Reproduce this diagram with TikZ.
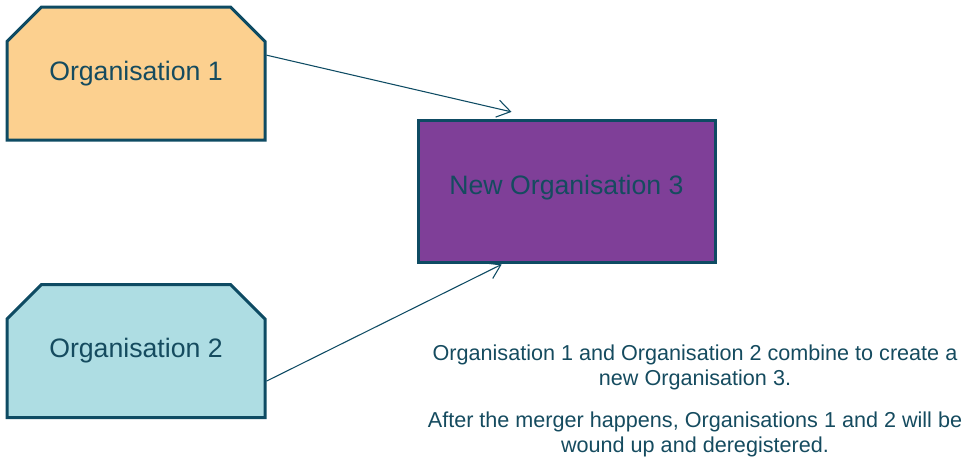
\documentclass[tikz,border=0pt]{standalone}
\usepackage{fontspec}
\setmainfont{Liberation Sans}
\usetikzlibrary{shapes.misc,arrows.meta}
\definecolor{orgline}{HTML}{0E4B63}
\definecolor{orgtext}{HTML}{154B5F}
\definecolor{orgone}{HTML}{FCD08F}
\definecolor{orgtwo}{HTML}{AEDDE3}
\definecolor{orgnew}{HTML}{7F3F98}
\tikzset{
    orgbox/.style={draw=orgline,line width=2.25pt,inner sep=0pt,text=orgtext,font=\fontsize{20}{24}\selectfont},
    oldorg/.style={orgbox,chamfered rectangle,chamfered rectangle corners={north west,north east},chamfered rectangle xsep=16.5pt,chamfered rectangle ysep=16.5pt,minimum width=193.5pt,minimum height=99.75pt},
    neworg/.style={orgbox,rectangle,fill=orgnew,minimum width=222.75pt,minimum height=106.5pt},
    merge/.style={-{Straight Barb[length=10pt,width=13pt]},draw=orgline,line width=0.8pt}
}
\begin{document}
\begin{tikzpicture}[x=0.75pt,y=-0.75pt]
    \useasboundingbox (0,0) rectangle (963,458);
    \node[oldorg,fill=orgone] (org1) at (136,73.5) {\raisebox{2pt}{Organisation 1}};
    \node[oldorg,fill=orgtwo] (org2) at (136,351) {\raisebox{3pt}{Organisation 2}};
    \node[neworg] (org3) at (566.5,191) {\raisebox{9pt}{New Organisation 3}};
    \draw[merge,shorten >=22pt] (org1.8) -- (org3.110);
    \draw[merge,shorten >=1.5pt] (org2.-13) -- (org3.229);
    \node[align=center,text=orgtext,font=\fontsize{16.2}{18.75}\selectfont] (note) at (695,401)
        {Organisation 1 and Organisation 2 combine to create a\\new Organisation 3.\\[12.75pt]
         After the merger happens, Organisations 1 and 2 will be\\wound up and deregistered.};
\end{tikzpicture}
\end{document}
